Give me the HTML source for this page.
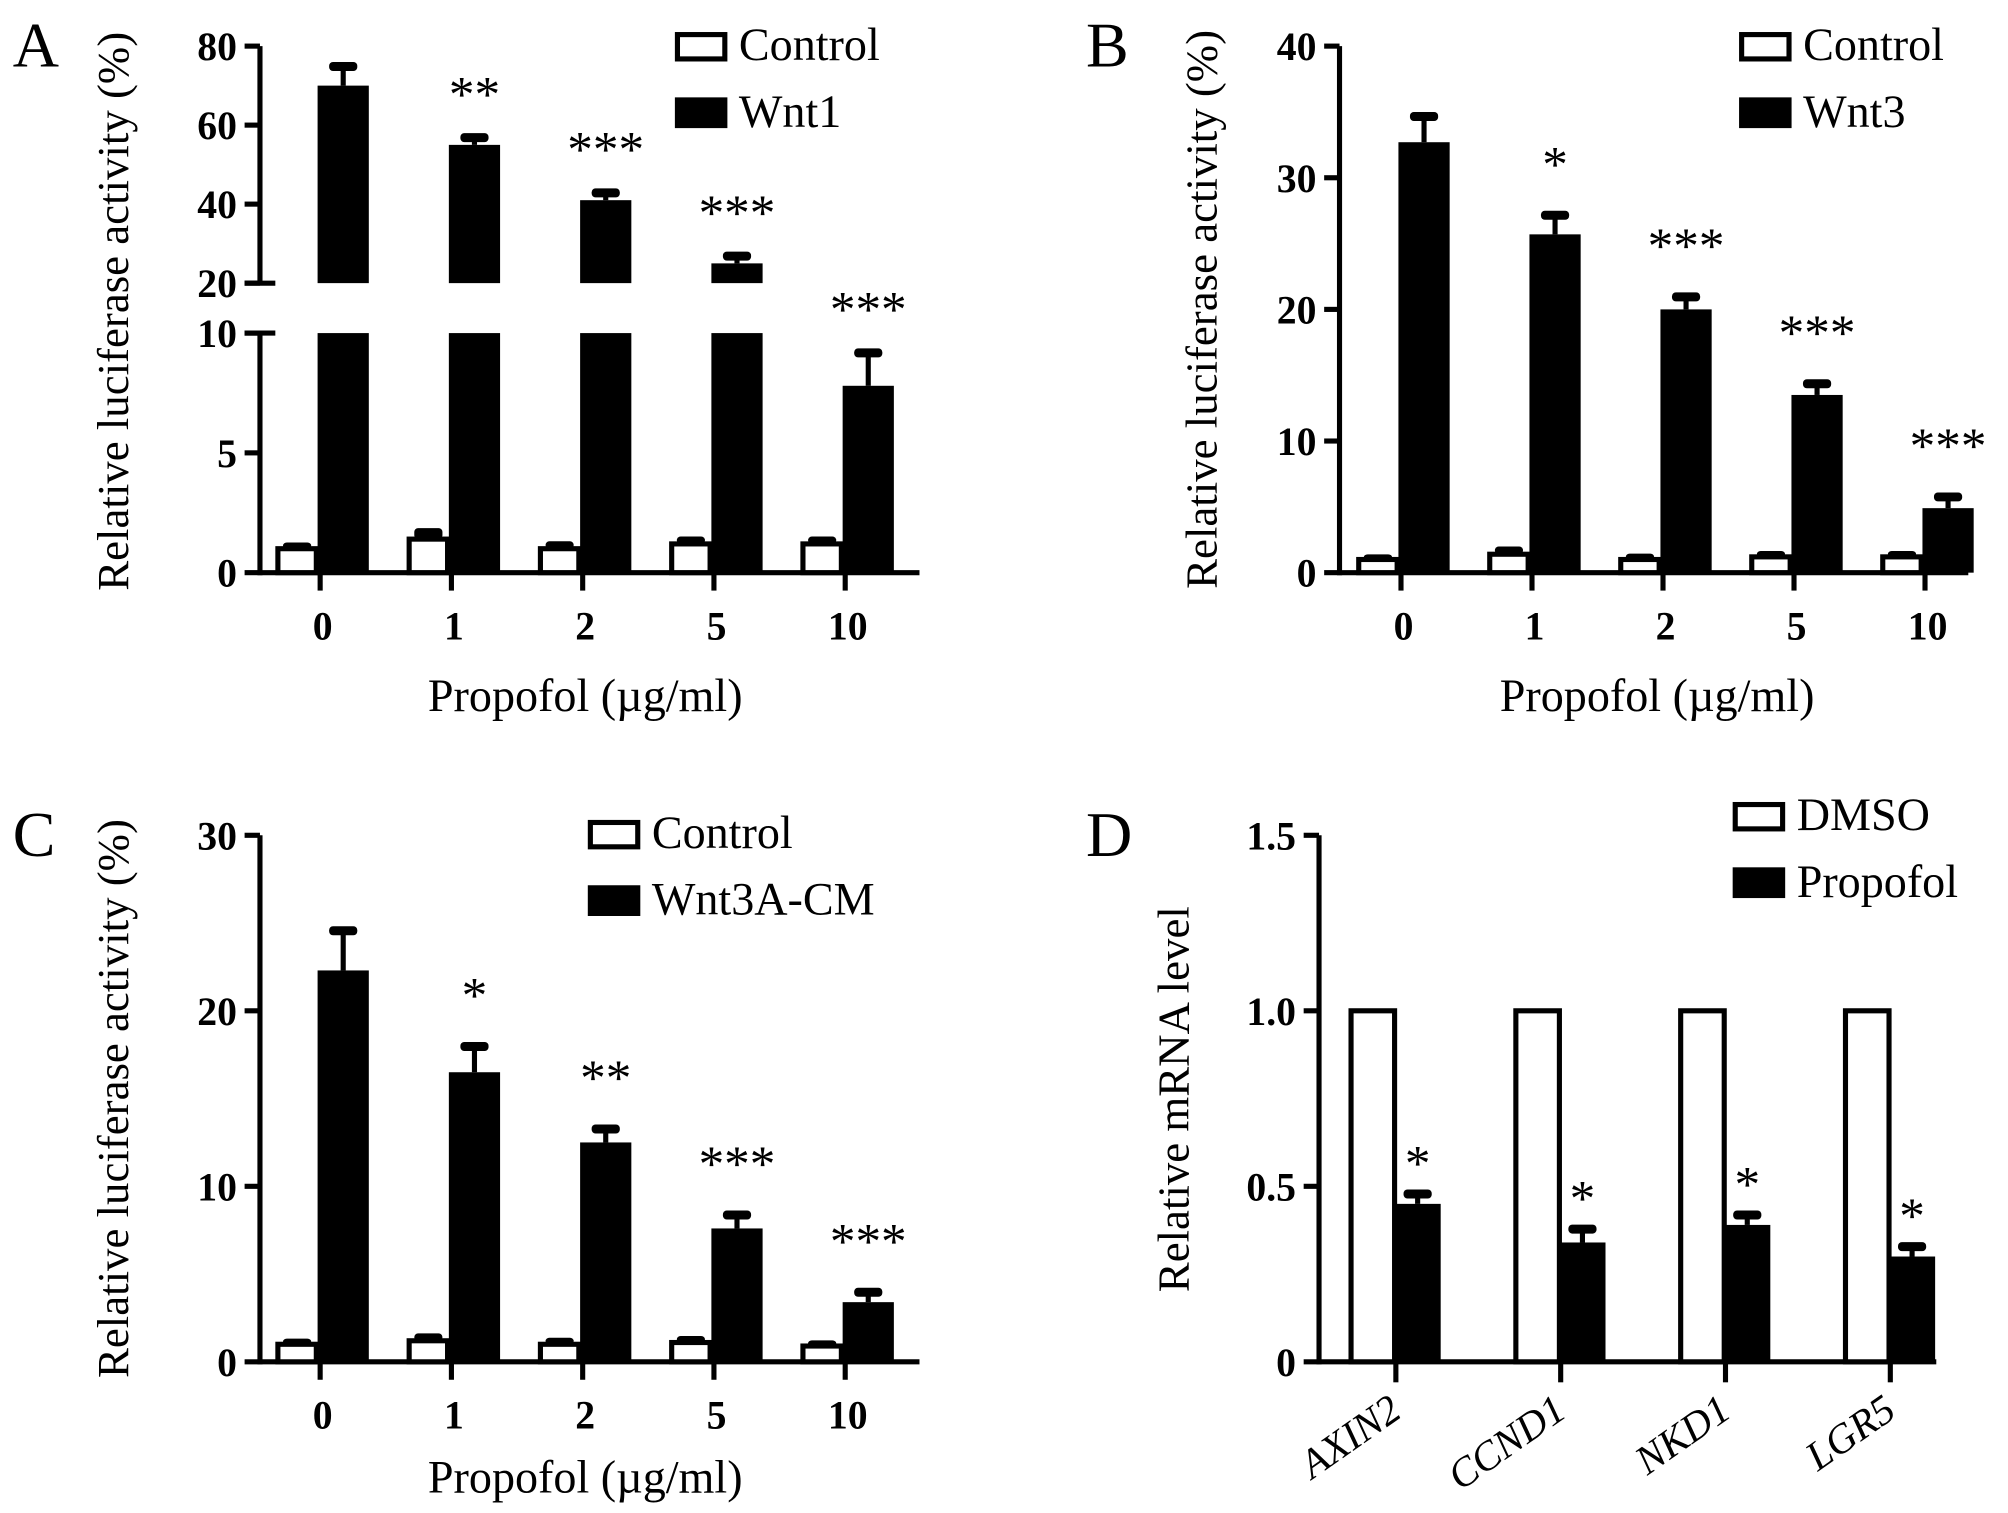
<!DOCTYPE html>
<html><head><meta charset="utf-8"><style>
html,body{margin:0;padding:0;background:#fff;}
svg{display:block;font-family:"Liberation Serif",serif;}
</style></head><body>
<svg id="fig" width="2008" height="1513" viewBox="0 0 1568 1181" preserveAspectRatio="none" xmlns="http://www.w3.org/2000/svg"></svg>
<script>
// Panel A (broken axis)
const aCategories = ["0","1","2","5","10"];
const aControl = [1.0,1.4,1.0,1.2,1.2];
const aControlErr = [0.1,0.3,0.15,0.15,0.15];
const aWnt = [70,55,41,25,7.8];
const aWntErr = [5,2,2,2,1.4];
const aStars = ["","**","***","***","***"];
const aLowTicks = [0,5,10];
const aHighTicks = [20,40,60,80];
// Panel B
const bCategories = ["0","1","2","5","10"];
const bControl = [1.0,1.4,1.0,1.2,1.2];
const bControlErr = [0.1,0.3,0.15,0.15,0.15];
const bWnt = [32.7,25.7,20.0,13.5,4.9];
const bWntErr = [2.0,1.5,1.0,0.9,0.9];
const bStars = ["","*","***","***","***"];
const bTicks = [0,10,20,30,40];
// Panel C
const cCategories = ["0","1","2","5","10"];
const cControl = [1.0,1.2,1.0,1.1,0.9];
const cControlErr = [0.1,0.2,0.15,0.15,0.1];
const cWnt = [22.3,16.5,12.5,7.6,3.4];
const cWntErr = [2.3,1.5,0.8,0.8,0.6];
const cStars = ["","*","**","***","***"];
const cTicks = [0,10,20,30];
// Panel D
const dCategories = ["AXIN2","CCND1","NKD1","LGR5"];
const dDmso = [1,1,1,1];
const dPropofol = [0.45,0.34,0.39,0.30];
const dPropofolErr = [0.03,0.04,0.03,0.03];
const dStars = ["*","*","*","*"];
const dTicks = [0,0.5,1.0,1.5];
const dTickLabels = ["0","0.5","1.0","1.5"];

const NS="http://www.w3.org/2000/svg";
const svg=document.getElementById('fig');
const STAR=40, TICK=31, TITLE=35, LEG=36;
function mk(tag,attrs,parent){const e=document.createElementNS(NS,tag);for(const k in attrs)e.setAttribute(k,attrs[k]);(parent||svg).appendChild(e);return e;}
function txt(s,attrs,parent){const e=mk('text',attrs,parent);e.textContent=s;return e;}
function line(x1,y1,x2,y2,w,p){return mk('line',{x1,y1,x2,y2,stroke:'#000','stroke-width':w},p);}

function errBar(x,yTop,yVal,p){
  const g=mk('g',{},p);
  
  
  line(x,yVal,x,yTop,4,g);
  mk('rect',{x:x-11,y:yTop-3,width:22,height:7,rx:3,fill:'#000'},g);
}
function legend(x,y1,y2,l1,l2,p){
  const g=mk('g',{},p);
  
  
  const e1=mk('g',{},g);
  
  
  mk('rect',{x:x+2,y:y1-20,width:37,height:19,fill:'#fff',stroke:'#000','stroke-width':4},e1);
  txt(l1,{x:x+50,y:y1,'font-size':LEG},e1);
  const e2=mk('g',{},g);
  
  
  mk('rect',{x:x,y:y2-23,width:41,height:24,fill:'#000'},e2);
  txt(l2,{x:x+50,y:y2,'font-size':LEG},e2);
}
function panelLetter(s,x,y){
  const t=txt(s,{x,y,'font-size':50});
  
  
}
function yTitle(s,x,y,p){
  const t=txt(s,{x:0,y:0,'font-size':TITLE,'text-anchor':'middle',transform:`translate(${x},${y}) rotate(-90)`},p);
  
  
}

function simplePanel(o){
  const g=mk('g',{});
  
  
  const y=v=>o.y0-(v/o.vmax)*(o.y0-o.yTop);
  const xt=i=>o.x0+i*o.step;
  line(o.ax,o.yTop,o.ax,o.y0+2,4,g);
  line(o.ax,o.y0,o.axEnd,o.y0,4,g);
  o.ticks.forEach((v,i)=>{
    line(o.ax-12,y(v),o.ax,y(v),4,g);
    const t=txt(String(v),{x:o.ax-18,y:y(v)+11,'font-size':TICK,'font-weight':'bold','text-anchor':'end'},g);
    
    
  });
  o.cats.forEach((c,i)=>{
    const t=xt(i);
    line(t,o.y0,t,o.y0+14,4,g);
    const cb=mk('rect',{x:t-33,y:y(o.ctrl[i]),width:30,height:o.y0-y(o.ctrl[i]),fill:'#fff',stroke:'#000','stroke-width':4},g);
    
    
    mk('rect',{x:t-29,y:y(o.ctrl[i]+o.ctrlErr[i])-3,width:22,height:y(o.ctrl[i])-y(o.ctrl[i]+o.ctrlErr[i])+3,fill:'#000',rx:3},g);
    errBar(t+18,y(o.tr[i]+o.trErr[i]),y(o.tr[i]),g);
    const tb=mk('rect',{x:t-2,y:y(o.tr[i]),width:40,height:o.y0-y(o.tr[i]),fill:'#000'},g);
    
    
    if(o.stars[i]){const s=txt(o.stars[i],{x:t+18,y:y(o.tr[i]+o.trErr[i])-o.starOff,'font-size':STAR,'text-anchor':'middle'},g);
      }
    const l=txt(c,{x:t+2,y:o.y0+52,'font-size':TICK,'font-weight':'bold','text-anchor':'middle'},g);
    
  });
  const xt2=txt('Propofol  (µg/ml)',{x:o.xTitleX,y:o.xTitleY,'font-size':TITLE+1,'text-anchor':'middle','xml:space':'preserve'},g);
  
  yTitle('Relative luciferase activity (%)',o.yTitleX,(o.yTop+o.y0)/2+o.yTitleShift,g);
  return g;
}

// Panel A with broken axis
(function(){
  const g=mk('g',{});
  
  
  const ax=203,y0=447,yLow10=260,yHigh20=221,yHigh80=36;
  const yl=v=>y0-v/10*(y0-yLow10);
  const yh=v=>yHigh20-(v-20)/60*(yHigh20-yHigh80);
  const xt=i=>250+i*102.5;
  line(ax,yHigh80,ax,yHigh20,4,g);
  line(ax,yLow10,ax,y0+2,4,g);
  line(ax-12,yHigh20,ax+12,yHigh20,4,g);
  line(ax-12,yLow10,ax+12,yLow10,4,g);
  line(ax,y0,718,y0,4,g);
  aHighTicks.forEach(v=>{line(ax-12,yh(v),ax,yh(v),4,g);
    const t=txt(String(v),{x:ax-18,y:yh(v)+11,'font-size':TICK,'font-weight':'bold','text-anchor':'end'},g);
    });
  aLowTicks.forEach(v=>{line(ax-12,yl(v),ax,yl(v),4,g);
    const t=txt(String(v),{x:ax-18,y:yl(v)+11,'font-size':TICK,'font-weight':'bold','text-anchor':'end'},g);
    });
  aCategories.forEach((c,i)=>{
    const t=xt(i);
    line(t,y0,t,y0+14,4,g);
    const cb=mk('rect',{x:t-33,y:yl(aControl[i]),width:30,height:y0-yl(aControl[i]),fill:'#fff',stroke:'#000','stroke-width':4},g);
    
    mk('rect',{x:t-29,y:yl(aControl[i]+aControlErr[i])-3,width:22,height:yl(aControl[i])-yl(aControl[i]+aControlErr[i])+3,fill:'#000',rx:3},g);
    const v=aWnt[i],e=v+aWntErr[i];
    let capY;
    if(v>10){
      capY=yh(e);
      errBar(t+18,capY,yh(v),g);
      const b1=mk('rect',{x:t-2,y:yh(v),width:40,height:yHigh20-yh(v),fill:'#000'},g);
      
      const b2=mk('rect',{x:t-2,y:yLow10,width:40,height:y0-yLow10,fill:'#000'},g);
      
    } else {
      capY=yl(e);
      errBar(t+18,capY,yl(v),g);
      const b=mk('rect',{x:t-2,y:yl(v),width:40,height:y0-yl(v),fill:'#000'},g);
      
    }
    if(aStars[i]){const s=txt(aStars[i],{x:t+18,y:capY-20,'font-size':STAR,'text-anchor':'middle'},g);
      }
    const l=txt(c,{x:t+2,y:y0+52,'font-size':TICK,'font-weight':'bold','text-anchor':'middle'},g);
    
  });
  const xt2=txt('Propofol  (µg/ml)',{x:457,y:555,'font-size':TITLE+1,'text-anchor':'middle','xml:space':'preserve'},g);
  
  yTitle('Relative luciferase activity (%)',100,243,g);
  legend(527,47,99,'Control','Wnt1',g);
})();
panelLetter('A',10,52);

simplePanel({name:'panel-b-chart',ax:1046,axEnd:1537,y0:447,yTop:36,vmax:40,ticks:bTicks,x0:1094,step:102.3,
  cats:bCategories,ctrl:bControl,ctrlErr:bControlErr,tr:bWnt,trErr:bWntErr,stars:bStars,starOff:26,
  xTitleX:1294,xTitleY:555,yTitleX:950,yTitleShift:0});
legend(1358,47,99,'Control','Wnt3',svg.lastChild);
panelLetter('B',848,52);

simplePanel({name:'panel-c-chart',ax:203,axEnd:718,y0:1063,yTop:652,vmax:30,ticks:cTicks,x0:250,step:102.5,
  cats:cCategories,ctrl:cControl,ctrlErr:cControlErr,tr:cWnt,trErr:cWntErr,stars:cStars,starOff:26,
  xTitleX:457,xTitleY:1165,yTitleX:100,yTitleShift:0});
legend(459,662,714,'Control','Wnt3A-CM',svg.lastChild);
panelLetter('C',10,668);

// Panel D
(function(){
  const g=mk('g',{});
  
  
  const ax=1030,y0=1063,yTop=652,vmax=1.5;
  const y=v=>y0-v/vmax*(y0-yTop);
  const xt=i=>1090+i*128.7;
  line(ax,yTop,ax,y0+2,4,g);
  line(ax,y0,1512,y0,4,g);
  dTicks.forEach((v,i)=>{line(ax-12,y(v),ax,y(v),4,g);
    const t=txt(dTickLabels[i],{x:ax-18,y:y(v)+11,'font-size':TICK,'font-weight':'bold','text-anchor':'end'},g);
    });
  dCategories.forEach((c,i)=>{
    const t=xt(i);
    line(t,y0,t,y0+16,4,g);
    const wb=mk('rect',{x:t-35,y:y(dDmso[i]),width:34,height:y0-y(dDmso[i]),fill:'#fff',stroke:'#000','stroke-width':4},g);
    
    const cap=y(dPropofol[i]+dPropofolErr[i]);
    errBar(t+17,cap,y(dPropofol[i]),g);
    const b=mk('rect',{x:t,y:y(dPropofol[i]),width:35,height:y0-y(dPropofol[i]),fill:'#000'},g);
    
    const s=txt(dStars[i],{x:t+17,y:cap-10,'font-size':STAR,'text-anchor':'middle'},g);
    
    const l=txt(c,{x:0,y:0,'font-size':32,'font-style':'italic','text-anchor':'end',transform:`translate(${t+6},${y0+42}) rotate(-35)`},g);
    
  });
  yTitle('Relative mRNA level',928,858,g);
  legend(1353,648,700,'DMSO','Propofol',g);
})();
panelLetter('D',848,668);
</script>
</body></html>
